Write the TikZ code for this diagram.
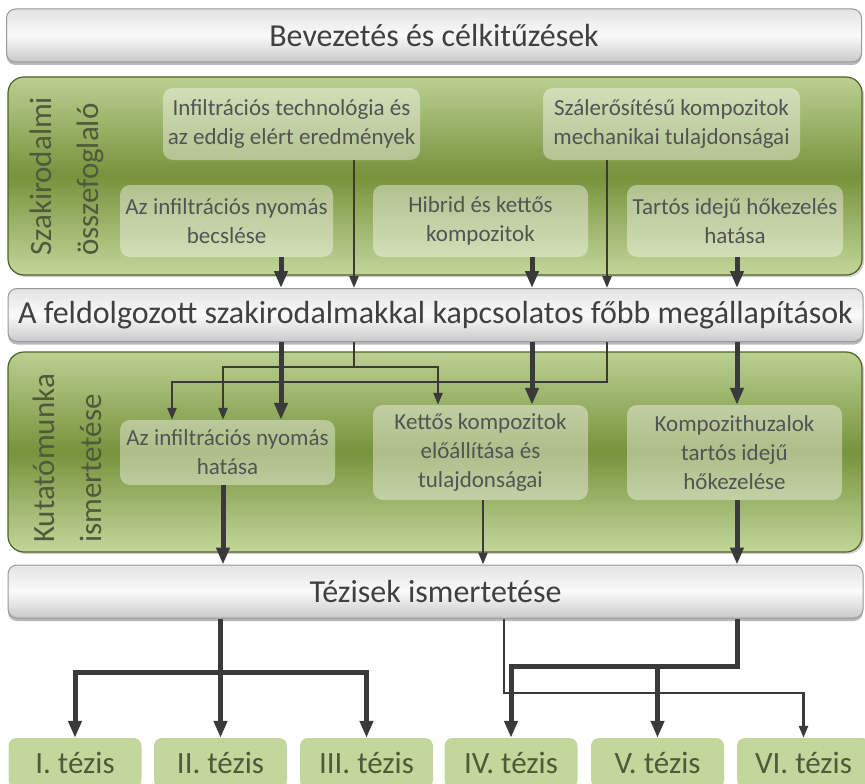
\documentclass[tikz,border=0pt]{standalone}
\usepackage{fontspec}
\setmainfont{Carlito}
\usetikzlibrary{arrows.meta,shadows}

\definecolor{txtgray}{HTML}{404040}
\definecolor{ligreen}{HTML}{C3D69B}
\definecolor{dkgreen}{HTML}{77933C}
\definecolor{edgegreen}{HTML}{4F6228}
\definecolor{arrgray}{HTML}{3A3A3A}
\definecolor{thgreen}{HTML}{4D5B3A}

\begin{document}
\begin{tikzpicture}[x=1pt,y=-1pt,
  bar/.style={draw=gray!80,line width=1pt,rounded corners=9pt,
    top color=gray!22,bottom color=gray!42,middle color=gray!4,
    minimum width=855pt,minimum height=53pt,text=txtgray,
    font=\fontsize{32}{36}\selectfont,
    drop shadow={shadow xshift=0pt,shadow yshift=-3pt,fill=gray!70,opacity=.8}},
  panel/.style={draw=edgegreen,line width=1.2pt,rounded corners=16pt,
    top color=ligreen!90!dkgreen,bottom color=ligreen,middle color=dkgreen,
    minimum width=854pt,
    drop shadow={shadow xshift=2pt,shadow yshift=-2pt,fill=gray!60,opacity=.6}},
  topic/.style={rounded corners=10pt,fill=white,fill opacity=.4,text opacity=1,
    text=txtgray!90,align=center,font=\fontsize{23}{29}\selectfont,
    minimum width=215pt,inner sep=2pt},
  side/.style={rotate=90,anchor=west,align=left,text=thgreen,inner sep=0pt,
    font=\fontsize{31}{47}\selectfont},
  thesis/.style={rounded corners=8pt,fill=ligreen,text=thgreen,
    minimum width=133pt,minimum height=50pt,font=\fontsize{31}{34}\selectfont},
  fat/.style={draw=arrgray,line width=5pt,-{Triangle[length=17pt,width=13pt]}},
  lean/.style={draw=arrgray,line width=2.5pt,-{Triangle[length=12pt,width=9pt]}}]

\useasboundingbox (0,0) rectangle (865,784);

% the three bars and the two green blocks
\node[bar] (INTRO) at (434,35.5) {Bevezetés és célkitűzések};
\node[panel,minimum height=198pt] (LIT) at (435,176) {};
\node[bar] (SUMM) at (435.5,315) {A feldolgozott szakirodalmakkal kapcsolatos főbb megállapítások};
\node[panel,minimum height=200pt] (WORK) at (435,452) {};
\node[bar] (THES) at (435.5,591.5) {Tézisek ismertetése};

\node[side] (LITLBL)  at (67,256) {Szakirodalmi\\összefoglaló};
\node[side] (WORKLBL) at (67,543) {Kutatómunka\\ismertetése};

% literature topics
\node[topic,minimum width=257pt,minimum height=72pt] (TECH) at (291.5,124) {Infiltrációs technológia és\\az eddig elért eredmények};
\node[topic,minimum width=213pt,minimum height=72pt] (EST)  at (226.5,221) {Az infiltrációs nyomás\\becslése};
\node[topic,minimum height=72pt]                     (HYB)  at (480.5,221) {Hibrid és kettős\\kompozitok};
\node[topic,minimum width=257pt,minimum height=72pt] (MECH) at (671.5,124) {Szálerősítésű kompozitok\\mechanikai tulajdonságai};
\node[topic,minimum width=216pt,minimum height=72pt] (HEAT) at (735,221)   {Tartós idejű hőkezelés\\hatása};

% research topics
\node[topic,minimum height=65pt] (PRES) at (227.5,452.5) {Az infiltrációs nyomás\\hatása};
\node[topic,minimum height=95pt] (DUAL) at (480.5,452.5) {Kettős kompozitok\\előállítása és\\tulajdonságai};
\node[topic,minimum height=95pt] (WIRE) at (734.5,452.5) {Kompozithuzalok\\tartós idejű\\hőkezelése};

% theses
\foreach \i/\x/\t in {1/75/I.,2/220.5/II.,3/366.5/III.,4/511/IV.,5/657.5/V.,6/803.5/VI.}
  \node[thesis] (T\i) at (\x,763) {\t{} tézis};

% columns and rows of the connectors
\foreach \n/\x in {a/281,b/354,c/532,d/607,e/737,f/223,g/438,h/172,i/483,j/504}
  \coordinate (col\n) at (\x,0);
\foreach \n/\y in {1/367,2/382,3/672,4/693,5/666}
  \coordinate (row\n) at (0,\y);

% literature -> findings
\draw[fat]  (EST.south -| cola)  -- (SUMM.north -| cola);
\draw[lean] (TECH.south -| colb) -- (SUMM.north -| colb);
\draw[fat]  (HYB.south -| colc)  -- (SUMM.north -| colc);
\draw[lean] (MECH.south -| cold) -- (SUMM.north -| cold);
\draw[fat]  (HEAT.south -| cole) -- (SUMM.north -| cole);

% findings -> research
\draw[fat]  (SUMM.south -| cola) -- (PRES.north -| cola);
\draw[lean] (SUMM.south -| colb) |- (row1 -| colf) -- (PRES.north -| colf);
\draw[lean] (SUMM.south -| colb) |- (row1 -| colg) -- (DUAL.north -| colg);
\draw[lean] (SUMM.south -| cold) |- (row2 -| colh) -- (PRES.north -| colh);
\draw[fat]  (SUMM.south -| colc) -- (DUAL.north -| colc);
\draw[fat]  (SUMM.south -| cole) -- (WIRE.north -| cole);

% research -> theses
\draw[fat]  (PRES.south -| colf) -- (THES.north -| colf);
\draw[lean] (DUAL.south -| coli) -- (THES.north -| coli);
\draw[fat]  (WIRE.south -| cole) -- (THES.north -| cole);

\foreach \k in {1,2,3}
  \draw[fat] (THES.south -| T2) |- (row3 -| T\k) -- (T\k.north);
\draw[lean] (THES.south -| colj) |- (row4 -| T6) -- (T6.north);
\foreach \k in {4,5}
  \draw[fat] (THES.south -| cole) |- (row5 -| T\k) -- (T\k.north);
\end{tikzpicture}
\end{document}
